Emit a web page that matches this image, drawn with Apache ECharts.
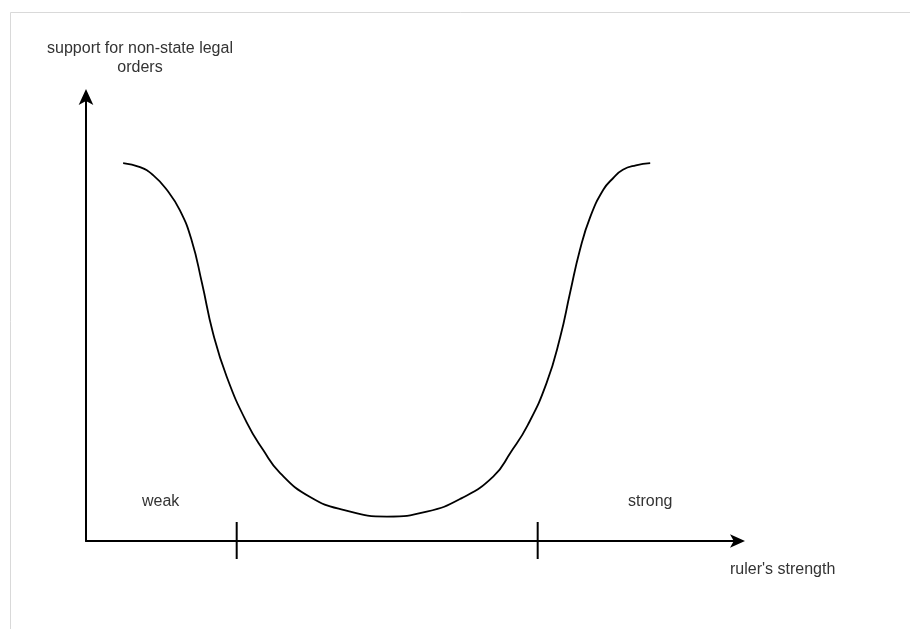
<!DOCTYPE html>
<html>
<head>
<meta charset="utf-8">
<script src="https://cdn.jsdelivr.net/npm/echarts@6/dist/echarts.min.js"></script>
<style>html,body{margin:0;padding:0;background:#fff}#c{width:910px;height:629px}</style>
</head>
<body>
<div id="c"></div>
<script>
// ruler's strength (0-100, arbitrary units)
var strength = [5.7, 8.3, 10.3, 12.4, 14.4, 16.2, 17.8, 19.5, 21.6, 24.7, 27.2, 29.8, 34.4, 39.5, 46.2, 52.3, 57.6, 62.5, 65.2, 67.8, 70.7, 72.8, 74.3, 75.8, 77.4, 79.4, 80.9, 82.4, 84.4, 86.6];
// support for non-state legal orders (0-100, arbitrary units)
var support = [85.1, 84.2, 82.4, 79.1, 74.5, 67.8, 58.1, 46.8, 37.0, 26.6, 20.5, 15.3, 9.9, 7.0, 5.5, 6.6, 9.6, 14.5, 20.0, 26.1, 35.6, 46.0, 55.9, 65.5, 73.0, 79.1, 81.7, 83.6, 84.6, 85.1];
// tick mark positions on the strength axis
var tickPositions = [23.13, 69.33];
var yAxisLabel = 'support for non-state legal\norders';
var xAxisLabel = "ruler's strength";
var regionLabels = ['weak', 'strong'];

var points = strength.map(function (x, i) { return [x, support[i]]; });
var font = '"Liberation Sans", Arial, sans-serif';

var chart = echarts.init(document.getElementById('c'), null, {renderer: 'canvas'});
chart.setOption({
  backgroundColor: '#fff',
  animation: false,
  grid: {left: 86, right: 910 - 737.5, top: 97, bottom: 629 - 541},
  xAxis: {
    type: 'value', min: 0, max: 100,
    axisLine: {show: true, symbol: ['none', 'arrow'], symbolSize: [10, 15], symbolOffset: [0, 7.5], lineStyle: {color: '#000', width: 2}},
    axisTick: {show: false}, axisLabel: {show: false}, splitLine: {show: false}
  },
  yAxis: {
    type: 'value', min: 0, max: 100,
    axisLine: {show: true, onZero: false, symbol: ['none', 'arrow'], symbolSize: [11, 16], symbolOffset: [0, 8], lineStyle: {color: '#000', width: 2}},
    axisTick: {show: false}, axisLabel: {show: false}, splitLine: {show: false}
  },
  series: [
    {
      type: 'line', data: points, smooth: 0.5, symbol: 'none',
      lineStyle: {color: '#000', width: 1.8}
    },
    {
      type: 'custom', data: tickPositions.map(function (v) { return [v, 0]; }),
      renderItem: function (params, api) {
        var p = api.coord([api.value(0), 0]);
        return {type: 'line', shape: {x1: p[0], y1: p[1] - 19, x2: p[0], y2: p[1] + 18}, style: {stroke: '#000', lineWidth: 2}};
      }
    }
  ],
  graphic: [
    {type: 'rect', shape: {x: 10.5, y: 12.5, width: 1000, height: 1000}, style: {fill: 'none', stroke: '#d9d9d9', lineWidth: 1}, silent: true},
    {type: 'text', x: 140, y: 58.5, style: {text: yAxisLabel, font: '16px ' + font, fill: '#333', align: 'center', verticalAlign: 'middle', lineHeight: 19}},
    {type: 'text', x: 142, y: 502, style: {text: regionLabels[0], font: '16px ' + font, fill: '#333', align: 'left', verticalAlign: 'middle'}},
    {type: 'text', x: 628, y: 502, style: {text: regionLabels[1], font: '16px ' + font, fill: '#333', align: 'left', verticalAlign: 'middle'}},
    {type: 'text', x: 730, y: 570, style: {text: xAxisLabel, font: '16px ' + font, fill: '#333', align: 'left', verticalAlign: 'middle'}}
  ]
});
</script>
</body>
</html>
